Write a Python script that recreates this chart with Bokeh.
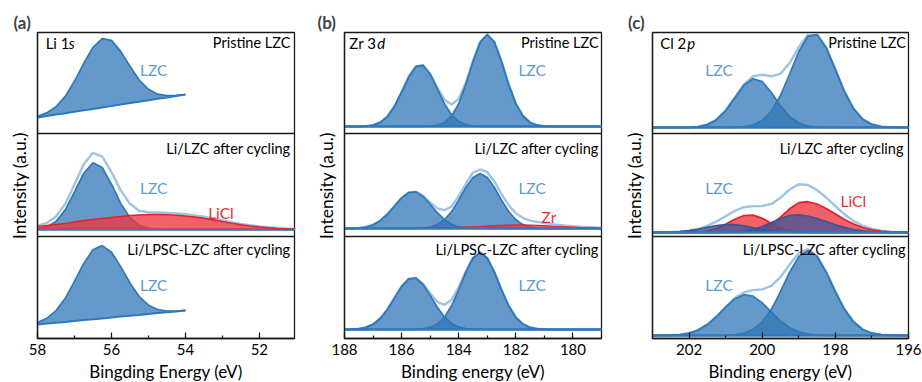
from bokeh.plotting import figure
from bokeh.models import Range1d, Span, Label, SingleIntervalTicker, FixedTicker
from bokeh.layouts import row
from bokeh.embed import file_html
from bokeh.resources import INLINE

FONT = "Lato"

# ---------------- data ----------------
# Panel (a) Li 1s
A_E_SHORT = [58.0, 57.75, 57.5, 57.25, 57.0, 56.75, 56.5, 56.25, 56.0, 55.75, 55.5,
             55.25, 55.0, 54.75, 54.5, 54.25, 54.0]
A_TOP_BG = [16.0, 17.4, 18.9, 20.3, 21.8, 23.2, 24.6, 26.1, 27.5, 28.9, 30.4, 31.8,
            33.3, 34.7, 36.1, 37.6, 39.0]
A_TOP_LZC = [17.1, 20.6, 26.8, 37.1, 52.2, 70.0, 86.1, 94.9, 93.1, 82.1, 67.2, 53.5,
             44.2, 39.3, 37.8, 38.1, 39.0]
A_BOT_BG = [14.0, 14.9, 15.8, 16.6, 17.5, 18.4, 19.3, 20.1, 21.0, 21.9, 22.8, 23.6,
            24.5, 25.4, 26.3, 27.1, 28.0]
A_BOT_LZC = [16.0, 20.2, 27.8, 40.2, 57.1, 75.1, 88.7, 92.9, 86.3, 71.9, 55.5, 42.0,
             33.3, 29.0, 27.5, 27.5, 28.1]

A_E_LONG = [58.0, 57.75, 57.5, 57.25, 57.0, 56.75, 56.5, 56.25, 56.0, 55.75, 55.5,
            55.25, 55.0, 54.75, 54.5, 54.25, 54.0, 53.75, 53.5, 53.25, 53.0, 52.75,
            52.5, 52.25, 52.0, 51.75, 51.5, 51.25, 51.0]
A_MID_BASE = 7.0
A_MID_LZC = [7.7, 9.6, 15.0, 26.6, 44.5, 63.3, 73.7, 69.0, 52.4, 33.1, 18.8, 11.2, 8.2,
             7.3, 7.0, 7.0, 7.0, 7.0, 7.0, 7.0, 7.0, 7.0, 7.0, 7.0, 7.0, 7.0, 7.0, 7.0, 7.0]
A_MID_LICL = [10.0, 11.0, 12.0, 13.0, 14.5, 16.0, 17.0, 18.0, 19.0, 20.0, 21.0, 21.5,
              22.0, 22.0, 21.8, 21.3, 20.5, 19.5, 18.3, 16.8, 15.0, 13.3, 11.8, 10.5,
              9.5, 8.7, 8.0, 7.5, 7.2]
A_MID_ENV = [10.7, 13.6, 20.0, 32.6, 52.0, 72.3, 83.7, 80.0, 64.4, 46.1, 32.8, 25.7,
             24.2, 24.0, 23.5, 23.0, 22.2, 21.0, 19.8, 18.0, 16.2, 14.3, 12.6, 11.2,
             10.1, 9.2, 8.5, 7.9, 7.5]

# Panel (b) Zr 3d
B_E = [188.0, 187.75, 187.5, 187.25, 187.0, 186.75, 186.5, 186.25, 186.0, 185.75,
       185.5, 185.25, 185.0, 184.75, 184.5, 184.25, 184.0, 183.75, 183.5, 183.25,
       183.0, 182.75, 182.5, 182.25, 182.0, 181.75, 181.5, 181.25, 181.0, 180.75,
       180.5, 180.25, 180.0, 179.75, 179.5, 179.25, 179.0]
B_TOP_BASE = 7.0
B_TOP_P1 = [0.0, 0.0, 0.1, 0.4, 1.4, 4.1, 9.9, 20.2, 34.5, 49.7, 60.1, 61.1, 52.3, 37.6,
            22.8, 11.5, 4.9, 1.8, 0.5, 0.1, 0, 0, 0, 0, 0, 0, 0, 0, 0, 0, 0, 0, 0, 0, 0, 0, 0]
B_TOP_P2 = [0, 0, 0, 0, 0, 0, 0, 0, 0, 0, 0, 0.1, 0.4, 1.3, 4.0, 10.5, 22.9, 42.1, 65.0,
            84.4, 92.0, 84.4, 65.0, 42.1, 22.9, 10.5, 4.0, 1.3, 0.4, 0.1, 0, 0, 0, 0, 0, 0, 0]
B_TOP_ENV = [7.0, 7.0, 7.1, 7.4, 8.4, 11.1, 16.9, 27.2, 41.5, 56.7, 67.1, 68.2, 59.7,
             45.9, 33.8, 29.0, 34.8, 50.9, 72.5, 91.5, 99.0, 91.4, 72.0, 49.1, 29.9,
             17.5, 11.0, 8.3, 7.4, 7.1, 7.0, 7.0, 7.0, 7.0, 7.0, 7.0, 7.0]
B_MID_BASE = 8.0
B_MID_P1 = [0.0, 0.2, 0.5, 1.5, 3.7, 7.8, 14.3, 22.5, 30.6, 36.0, 36.6, 32.0, 24.2, 15.8,
            8.9, 4.3, 1.8, 0.7, 0.2, 0.1, 0, 0, 0, 0, 0, 0, 0, 0, 0, 0, 0, 0, 0, 0, 0, 0, 0]
B_MID_P2 = [0, 0, 0, 0, 0, 0, 0, 0, 0, 0.0, 0.1, 0.5, 1.5, 3.9, 8.7, 16.9, 28.4, 41.0,
            51.1, 55.0, 51.1, 41.0, 28.4, 16.9, 8.7, 3.9, 1.5, 0.5, 0.1, 0, 0, 0, 0, 0, 0, 0, 0]
B_MID_ZR = [0, 0, 0, 0, 0, 0, 0, 0, 0.1, 0.1, 0.2, 0.3, 0.4, 0.5, 0.7, 0.9, 1.1, 1.4,
            1.7, 2.0, 2.4, 2.8, 3.1, 3.4, 3.6, 3.6, 3.4, 3.1, 2.8, 2.4, 2.0, 1.6, 1.3,
            1.0, 0.8, 0.6, 0.4]
B_MID_ENV = [8.0, 8.2, 8.5, 9.5, 11.7, 15.8, 22.3, 30.5, 38.7, 44.1, 44.9, 40.8, 34.1,
             28.2, 26.3, 30.1, 40.3, 53.0, 64.0, 67.0, 64.5, 54.8, 42.5, 31.3, 23.3,
             18.5, 15.9, 14.6, 13.4, 12.4, 11.5, 10.8, 10.3, 9.8, 9.4, 9.0, 8.6]
B_BOT_BASE = 9.0
B_BOT_P1 = [0.1, 0.2, 0.7, 2.1, 5.2, 11.0, 20.1, 31.6, 43.1, 50.6, 51.4, 45.0, 34.1,
            22.2, 12.5, 6.1, 2.6, 0.9, 0.3, 0.1, 0, 0, 0, 0, 0, 0, 0, 0, 0, 0, 0, 0, 0, 0, 0, 0, 0]
B_BOT_P2 = [0, 0, 0, 0, 0, 0, 0, 0, 0, 0.0, 0.2, 0.7, 2.1, 5.5, 12.2, 23.7, 39.7, 57.4,
            71.5, 77.0, 71.5, 57.4, 39.7, 23.7, 12.2, 5.5, 2.1, 0.7, 0.2, 0, 0, 0, 0, 0, 0, 0, 0]
B_BOT_ENV = [9.1, 9.2, 9.7, 11.1, 14.2, 20.0, 29.1, 40.6, 52.1, 59.6, 60.6, 54.7, 45.2,
             36.7, 33.7, 38.8, 51.3, 67.3, 80.8, 86.1, 80.5, 66.4, 48.7, 32.7, 21.2,
             14.5, 11.1, 9.7, 9.2, 9.0, 9.0, 9.0, 9.0, 9.0, 9.0, 9.0, 9.0]

# Panel (c) Cl 2p
C_E = [203.0, 202.75, 202.5, 202.25, 202.0, 201.75, 201.5, 201.25, 201.0, 200.75,
       200.5, 200.25, 200.0, 199.75, 199.5, 199.25, 199.0, 198.75, 198.5, 198.25,
       198.0, 197.75, 197.5, 197.25, 197.0, 196.75, 196.5, 196.25, 196.0]
C_TOP_BASE = 6.0
C_TOP_P1 = [0, 0, 0.0, 0.0, 0.2, 0.9, 2.9, 7.8, 16.9, 29.6, 42.2, 48.8, 45.9, 35.0,
            21.7, 10.9, 4.5, 1.5, 0.4, 0.1, 0, 0, 0, 0, 0, 0, 0, 0, 0]
C_TOP_P2 = [0, 0, 0, 0, 0, 0, 0, 0, 0.1, 0.2, 0.8, 2.5, 6.9, 16.2, 32.0, 53.5, 76.0,
            91.2, 92.8, 79.8, 58.2, 35.9, 18.7, 8.3, 3.1, 1.0, 0.3, 0.1, 0.0]
C_TOP_ENV = [6.0, 6.0, 6.0, 6.0, 6.2, 6.9, 8.9, 13.8, 23.0, 35.8, 49.0, 57.3, 58.8,
             57.2, 59.7, 70.4, 86.5, 98.7, 99.2, 85.9, 64.2, 41.9, 24.7, 14.3, 9.1,
             7.0, 6.3, 6.1, 6.0]
C_MID_BASE = 4.0
C_MID_LICL_A = [0, 0, 0, 0.0, 0.1, 0.5, 1.6, 4.1, 8.2, 13.2, 17.0, 17.4, 14.2, 9.2,
                4.8, 2.0, 0.6, 0.2, 0.0, 0, 0, 0, 0, 0, 0, 0, 0, 0, 0]
C_MID_LICL_B = [0, 0, 0, 0, 0, 0, 0, 0, 0, 0.1, 0.3, 1.2, 3.4, 8.0, 15.3, 23.7, 29.9,
                30.8, 28.4, 24.0, 18.5, 13.1, 8.4, 5.0, 2.7, 1.3, 0.6, 0.3, 0.1]
C_MID_LZC_C = [0.0, 0.1, 0.3, 0.8, 1.8, 3.2, 5.1, 6.9, 7.9, 7.8, 6.6, 4.7, 2.9, 1.5,
               0.7, 0.3, 0.1, 0, 0, 0, 0, 0, 0, 0, 0, 0, 0, 0, 0]
C_MID_LZC_D = [0, 0, 0, 0, 0, 0, 0, 0.1, 0.2, 0.5, 1.4, 3.1, 6.0, 9.9, 14.0, 17.0,
               17.6, 16.5, 14.0, 11.0, 7.8, 5.1, 3.0, 1.7, 0.8, 0.4, 0.2, 0.1, 0.0]
C_MID_ENV = [4.0, 4.1, 4.3, 4.8, 5.9, 7.7, 10.7, 15.1, 20.3, 25.6, 29.3, 30.4, 30.5,
             32.6, 38.8, 47.0, 52.2, 51.5, 46.4, 39.0, 30.3, 22.2, 15.4, 10.7, 7.5,
             5.7, 4.8, 4.4, 4.1]
C_BOT_BASE = 3.0
C_BOT_P1 = [0.0, 0.1, 0.3, 0.9, 2.3, 5.4, 10.9, 18.9, 28.3, 36.6, 40.8, 39.3, 32.6,
            23.4, 14.5, 7.7, 3.6, 1.4, 0.5, 0.2, 0.0, 0, 0, 0, 0, 0, 0, 0, 0]
C_BOT_P2 = [0, 0, 0, 0, 0, 0, 0.0, 0.1, 0.2, 0.8, 2.3, 6.0, 13.5, 26.2, 43.9, 63.3,
            79.0, 85.0, 79.0, 63.3, 43.9, 26.2, 13.5, 6.0, 2.3, 0.8, 0.2, 0.1, 0.0]
C_BOT_ENV = [3.0, 3.1, 3.3, 3.9, 5.3, 8.4, 13.9, 22.0, 31.5, 40.4, 46.1, 48.3, 49.1,
             52.6, 61.4, 74.0, 85.6, 89.4, 82.5, 66.5, 46.9, 29.2, 16.5, 9.0, 5.3,
             3.8, 3.2, 3.1, 3.0]

# ---------------- style ----------------
BLUE = "#2e75b6"
BLUE_LINE = "#2f78bb"
ENV = "#9dc3e6"
LBL_BLUE = "#5b9bd5"
RED = "#ee3440"
RED_LINE = "#e8202a"
LBL_RED = "#ee2b34"
NAVY = "#3a5597"
FRAME = "#1a1a1a"

OFF = {"top": 205, "mid": 102, "bot": 0}
YMAX = 306


def shift(vals, off):
    return [v + off for v in vals]


def make_fig(xr, title, bl, toff, xlabel):
    p = figure(frame_width=bl[2], frame_height=306, x_range=Range1d(*xr),
               y_range=Range1d(0, YMAX), output_backend="svg", toolbar_location=None,
               min_border_left=bl[0], min_border_right=bl[1], min_border_top=32,
               min_border_bottom=44)
    p.grid.visible = False
    p.outline_line_color = FRAME
    p.outline_line_width = 1.3
    p.background_fill_color = "white"
    p.border_fill_color = "white"
    p.title.text = title
    p.title.align = "left"
    p.title.offset = toff
    p.title.text_font = FONT
    p.title.text_font_size = "17px"
    p.title.text_font_style = "bold"
    p.title.standoff = 0
    ax = p.xaxis[0]
    ax.ticker = SingleIntervalTicker(interval=2, num_minor_ticks=2)
    ax.major_tick_in = 6
    ax.major_tick_out = 0
    ax.minor_tick_in = 3
    ax.minor_tick_out = 0
    ax.major_tick_line_color = FRAME
    ax.minor_tick_line_color = FRAME
    ax.major_tick_line_width = 1.2
    ax.minor_tick_line_width = 1.2
    ax.axis_line_color = FRAME
    ax.axis_line_width = 1.3
    ax.major_label_text_font = FONT
    ax.major_label_text_font_size = "15px"
    ax.major_label_text_color = "black"
    ax.major_label_standoff = 5
    ax.axis_label = xlabel
    ax.axis_label_text_font = FONT
    ax.axis_label_text_font_size = "17px"
    ax.axis_label_text_font_style = "normal"
    ax.axis_label_text_color = "black"
    ax.axis_label_standoff = 3
    ay = p.yaxis[0]
    ay.ticker = FixedTicker(ticks=[])
    ay.major_tick_line_color = None
    ay.minor_tick_line_color = None
    ay.axis_line_color = FRAME
    ay.axis_line_width = 1.3
    ay.axis_label = "Intensity (a.u.)"
    ay.axis_label_text_font = FONT
    ay.axis_label_text_font_size = "17.5px"
    ay.axis_label_text_font_style = "normal"
    ay.axis_label_text_color = "black"
    ay.axis_label_standoff = 8
    for loc in (OFF["mid"], OFF["top"]):
        p.add_layout(Span(location=loc, dimension="width", line_color=FRAME,
                          line_width=1.3))
    return p


def lab(p, x, y, text, color="black", align="left", size="14.5px", style="normal",
        xoff=0):
    p.add_layout(Label(x=x, y=y, text=text, text_color=color, text_align=align,
                       text_baseline="middle", text_font=FONT, text_font_size=size,
                       text_font_style=style, x_offset=xoff))


def env_line(p, x, vals, off):
    p.line(x, shift(vals, off), line_color=ENV, line_width=2.4, line_join="round")


def comp(p, x, base, vals, off, fill, line, alpha=0.74, lw=1.7):
    lower = [base + off] * len(x)
    upper = [base + v + off for v in vals]
    p.varea(x=x, y1=lower, y2=upper, fill_color=fill, fill_alpha=alpha)
    p.line(x, upper, line_color=line, line_width=lw, line_join="round")


def base_line(p, x, base, off):
    p.line([x[0], x[-1]], [base + off, base + off], line_color=BLUE_LINE,
           line_width=2.4)


# ---------------- panel (a) ----------------
pa = make_fig((58, 51.05), "(a)", (37, 6, 257), -24, "Bingding Energy (eV)")
o = OFF["top"]
pa.varea(x=A_E_SHORT, y1=shift(A_TOP_BG, o), y2=shift(A_TOP_LZC, o),
         fill_color=BLUE, fill_alpha=0.74)
pa.line(A_E_SHORT, shift(A_TOP_LZC, o), line_color=BLUE_LINE, line_width=1.7)
pa.line(A_E_SHORT, shift(A_TOP_BG, o), line_color=BLUE_LINE, line_width=2.0)
o = OFF["mid"]
env_line(pa, A_E_LONG, A_MID_ENV, o)
pa.varea(x=A_E_LONG, y1=[A_MID_BASE + o] * len(A_E_LONG), y2=shift(A_MID_LZC, o),
         fill_color=BLUE, fill_alpha=0.74)
pa.line(A_E_LONG, shift(A_MID_LZC, o), line_color=BLUE_LINE, line_width=1.7)
base_line(pa, A_E_LONG, A_MID_BASE, o)
pa.varea(x=A_E_LONG, y1=[A_MID_BASE + o] * len(A_E_LONG), y2=shift(A_MID_LICL, o),
         fill_color=RED, fill_alpha=0.78)
pa.line(A_E_LONG, shift(A_MID_LICL, o), line_color=RED_LINE, line_width=1.6)
o = OFF["bot"]
pa.varea(x=A_E_SHORT, y1=shift(A_BOT_BG, o), y2=shift(A_BOT_LZC, o),
         fill_color=BLUE, fill_alpha=0.74)
pa.line(A_E_SHORT, shift(A_BOT_LZC, o), line_color=BLUE_LINE, line_width=1.7)
pa.line(A_E_SHORT, shift(A_BOT_BG, o), line_color=BLUE_LINE, line_width=2.0)

lab(pa, 57.78, 296, "Li 1", size="15px")
lab(pa, 57.78, 296, "s", size="15px", style="italic", xoff=23)
lab(pa, 51.16, 296, "Pristine LZC", align="right")
lab(pa, 54.86, 269, "LZC", color=LBL_BLUE, align="center", size="15.5px")
lab(pa, 51.16, 190, "Li/LZC after cycling", align="right")
lab(pa, 54.86, 151, "LZC", color=LBL_BLUE, align="center", size="15.5px")
lab(pa, 53.04, 126, "LiCl", color=LBL_RED, align="center", size="15.5px")
lab(pa, 51.16, 89, "Li/LPSC-LZC after cycling", align="right")
lab(pa, 54.86, 54, "LZC", color=LBL_BLUE, align="center", size="15.5px")

# ---------------- panel (b) ----------------
pb = make_fig((188, 179), "(b)", (44, 9, 257), -27, "Binding energy (eV)")
for key, base, p1, p2, env in (("top", B_TOP_BASE, B_TOP_P1, B_TOP_P2, B_TOP_ENV),
                               ("mid", B_MID_BASE, B_MID_P1, B_MID_P2, B_MID_ENV),
                               ("bot", B_BOT_BASE, B_BOT_P1, B_BOT_P2, B_BOT_ENV)):
    o = OFF[key]
    env_line(pb, B_E, env, o)
    comp(pb, B_E, base, p1, o, BLUE, BLUE_LINE)
    comp(pb, B_E, base, p2, o, BLUE, BLUE_LINE)
    if key == "mid":
        comp(pb, B_E, base, B_MID_ZR, o, RED, RED_LINE, alpha=0.78, lw=1.2)
    base_line(pb, B_E, base, o)

lab(pb, 187.83, 296, "Zr 3", size="15px")
lab(pb, 187.83, 296, "d", size="15px", style="italic", xoff=28)
lab(pb, 179.1, 296, "Pristine LZC", align="right")
lab(pb, 181.43, 269, "LZC", color=LBL_BLUE, align="center", size="15.5px")
lab(pb, 179.1, 190, "Li/LZC after cycling", align="right")
lab(pb, 181.43, 151, "LZC", color=LBL_BLUE, align="center", size="15.5px")
lab(pb, 180.84, 122, "Zr", color=LBL_RED, align="center", size="15.5px")
lab(pb, 179.1, 89, "Li/LPSC-LZC after cycling", align="right")
lab(pb, 181.43, 54, "LZC", color=LBL_BLUE, align="center", size="15.5px")

# ---------------- panel (c) ----------------
pc = make_fig((203, 196), "(c)", (42, 14, 256), -24.5, "Binding energy (eV)")
o = OFF["top"]
env_line(pc, C_E, C_TOP_ENV, o)
comp(pc, C_E, C_TOP_BASE, C_TOP_P1, o, BLUE, BLUE_LINE)
comp(pc, C_E, C_TOP_BASE, C_TOP_P2, o, BLUE, BLUE_LINE)
base_line(pc, C_E, C_TOP_BASE, o)

o = OFF["mid"]
env_line(pc, C_E, C_MID_ENV, o)
comp(pc, C_E, C_MID_BASE, C_MID_LICL_A, o, RED, RED_LINE, alpha=0.78)
comp(pc, C_E, C_MID_BASE, C_MID_LICL_B, o, RED, RED_LINE, alpha=0.78)
comp(pc, C_E, C_MID_BASE, C_MID_LZC_C, o, NAVY, NAVY, alpha=0.75)
comp(pc, C_E, C_MID_BASE, C_MID_LZC_D, o, NAVY, NAVY, alpha=0.75)
base_line(pc, C_E, C_MID_BASE, o)

o = OFF["bot"]
env_line(pc, C_E, C_BOT_ENV, o)
comp(pc, C_E, C_BOT_BASE, C_BOT_P1, o, BLUE, BLUE_LINE)
comp(pc, C_E, C_BOT_BASE, C_BOT_P2, o, BLUE, BLUE_LINE)
base_line(pc, C_E, C_BOT_BASE, o)

lab(pc, 202.79, 296, "Cl 2", size="15px")
lab(pc, 202.79, 296, "p", size="15px", style="italic", xoff=27)
lab(pc, 196.07, 296, "Pristine LZC", align="right")
lab(pc, 201.18, 269, "LZC", color=LBL_BLUE, align="center", size="15.5px")
lab(pc, 196.13, 190, "Li/LZC after cycling", align="right")
lab(pc, 201.18, 151, "LZC", color=LBL_BLUE, align="center", size="15.5px")
lab(pc, 197.51, 138, "LiCl", color=LBL_RED, align="center", size="15.5px")
lab(pc, 196.07, 89, "Li/LPSC-LZC after cycling", align="right")
lab(pc, 201.18, 54, "LZC", color=LBL_BLUE, align="center", size="15.5px")

layout = row(pa, pb, pc)
open("out.html", "w").write(file_html(layout, INLINE))
